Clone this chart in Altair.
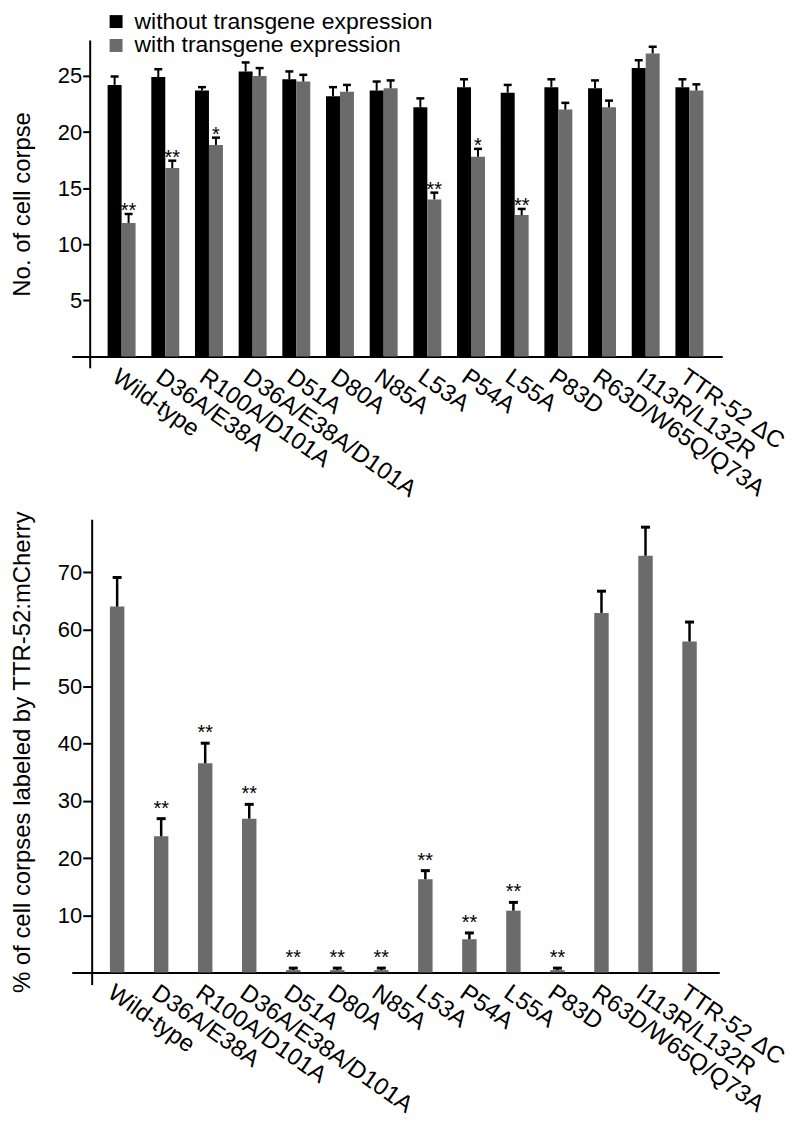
import altair as alt
import pandas as pd

FONT = "Liberation Sans"
GRAY = "#6b6b6b"

categories = ["Wild-type", "D36A/E38A", "R100A/D101A", "D36A/E38A/D101A", "D51A",
              "D80A", "N85A", "L53A", "P54A", "L55A", "P83D", "R63D/W65Q/Q73A",
              "I113R/L132R", "TTR-52 \u0394C"]

series_names = ["without transgene expression", "\u00a0with transgene expression"]

without_vals = [24.2, 24.9, 23.7, 25.4, 24.7, 23.2, 23.7, 22.2, 24.0, 23.5, 24.0, 23.9, 25.7, 24.0]
without_err = [0.75, 0.7, 0.3, 0.8, 0.7, 0.8, 0.8, 0.8, 0.7, 0.7, 0.7, 0.7, 0.7, 0.7]
with_vals = [11.9, 16.8, 18.85, 25.0, 24.5, 23.6, 23.9, 14.0, 17.8, 12.6, 22.0, 22.2, 27.0, 23.7]
with_err = [0.8, 0.65, 0.65, 0.7, 0.6, 0.6, 0.7, 0.6, 0.7, 0.55, 0.6, 0.6, 0.6, 0.55]
with_sig = ["**", "**", "*", "", "", "", "", "**", "*", "**", "", "", "", ""]

pct_vals = [64.0, 23.8, 36.6, 26.9, 0.4, 0.4, 0.4, 16.3, 5.8, 10.8, 0.4, 62.9, 72.9, 57.9]
pct_err = [5.1, 3.1, 3.5, 2.5, 0.35, 0.35, 0.35, 1.5, 1.1, 1.45, 0.35, 3.8, 5.0, 3.4]
pct_sig = ["", "**", "**", "**", "**", "**", "**", "**", "**", "**", "**", "", "", ""]

rows = []
for i, c in enumerate(categories):
    rows.append(dict(cat=c, series=series_names[0], value=without_vals[i],
                     hi=without_vals[i] + without_err[i], sig=""))
    rows.append(dict(cat=c, series=series_names[1], value=with_vals[i],
                     hi=with_vals[i] + with_err[i], sig=with_sig[i]))
top_df = pd.DataFrame(rows)

bot_df = pd.DataFrame({
    "cat": categories,
    "value": pct_vals,
    "hi": [v + e for v, e in zip(pct_vals, pct_err)],
    "sig": pct_sig,
})


def x_axis(offset):
    return alt.Axis(labelAngle=35, labelAlign="left", labelBaseline="top", ticks=False,
                    tickSize=0, labelPadding=8, offset=offset, domainWidth=2,
                    domainColor="black", labelFontSize=24, labelColor="black",
                    labelLimit=400, labelOverlap=False, labelFont=FONT)


def y_axis(values, title, offset, ticksize):
    return alt.Axis(values=values, title=title, offset=offset, tickSize=ticksize,
                    tickWidth=2, tickColor="black", domainWidth=2, domainColor="black",
                    grid=False, labelFontSize=22, labelColor="black", labelPadding=1,
                    titleFontSize=24, titleFontWeight="normal", titleColor="black",
                    titlePadding=23, labelFont=FONT, titleFont=FONT)


# ---------- top panel ----------
x_top = alt.X("cat:N", sort=categories, title=None,
              scale=alt.Scale(paddingInner=0.36, paddingOuter=0.627, align=0.655),
              axis=x_axis(-11.27))
xoff = alt.XOffset("series:N", sort=series_names,
                   scale=alt.Scale(domain=series_names, paddingInner=0, paddingOuter=0))
top_yscale = alt.Scale(domain=[-1, 28.2], nice=False, zero=False)
top_yaxis = y_axis([5, 10, 15, 20, 25], "No. of cell corpse", -18, 7)

top_bars = alt.Chart(top_df).mark_bar().encode(
    x=x_top, xOffset=xoff,
    y=alt.Y("value:Q", scale=top_yscale, axis=top_yaxis),
    y2=alt.datum(0),
    color=alt.Color("series:N", sort=series_names,
                    scale=alt.Scale(domain=series_names, range=["#000000", GRAY]),
                    legend=alt.Legend(title=None, orient="none", legendX=33, legendY=-30,
                                      symbolType="square", symbolSize=169,
                                      symbolStrokeWidth=0, symbolOpacity=1,
                                      labelFontSize=23, labelFont=FONT, labelColor="black",
                                      labelOffset=7, rowPadding=-5, padding=0,
                                      labelLimit=500)),
)
top_rules = alt.Chart(top_df).mark_rule(color="black", strokeWidth=2).encode(
    x=x_top, xOffset=xoff,
    y=alt.Y("value:Q", scale=top_yscale, axis=top_yaxis), y2="hi:Q")
top_caps = alt.Chart(top_df).mark_tick(color="black", thickness=2.5, size=8,
                                       orient="horizontal", opacity=1).encode(
    x=x_top, xOffset=xoff,
    y=alt.Y("hi:Q", scale=top_yscale, axis=top_yaxis))
top_stars = alt.Chart(top_df).mark_text(font=FONT, fontSize=20, baseline="alphabetic",
                                        dy=3, color="black").encode(
    x=x_top, xOffset=xoff,
    y=alt.Y("hi:Q", scale=top_yscale, axis=top_yaxis), text="sig:N")

top = alt.layer(top_bars, top_rules, top_caps, top_stars).properties(width=653, height=329)

# ---------- bottom panel ----------
x_bot = alt.X("cat:N", sort=categories, title=None,
              scale=alt.Scale(paddingInner=0.672, paddingOuter=0.689, align=0.629),
              axis=x_axis(-12.05))
bot_yscale = alt.Scale(domain=[-2.1, 79.3], nice=False, zero=False)
bot_yaxis = y_axis([10, 20, 30, 40, 50, 60, 70],
                   "% of cell corpses labeled by TTR-52:mCherry", -20, 9)

bot_bars = alt.Chart(bot_df).mark_bar(color=GRAY).encode(
    x=x_bot, y=alt.Y("value:Q", scale=bot_yscale, axis=bot_yaxis), y2=alt.datum(0))
bot_rules = alt.Chart(bot_df).mark_rule(color="black", strokeWidth=2.5).encode(
    x=x_bot, y=alt.Y("value:Q", scale=bot_yscale, axis=bot_yaxis), y2="hi:Q")
bot_caps = alt.Chart(bot_df).mark_tick(color="black", thickness=3, size=9,
                                       orient="horizontal", opacity=1).encode(
    x=x_bot, y=alt.Y("hi:Q", scale=bot_yscale, axis=bot_yaxis))
bot_stars = alt.Chart(bot_df).mark_text(font=FONT, fontSize=20, baseline="alphabetic",
                                        dy=-4, color="black").encode(
    x=x_bot, y=alt.Y("hi:Q", scale=bot_yscale, axis=bot_yaxis), text="sig:N")

bottom = alt.layer(bot_bars, bot_rules, bot_caps, bot_stars).properties(width=650, height=467)

chart = alt.vconcat(top, bottom, spacing=5).resolve_scale(
    x="independent", y="independent", color="independent"
).properties(
    padding={"left": 2, "top": 0, "right": 0, "bottom": 0}, background="white"
).configure(font=FONT).configure_view(strokeWidth=0, stroke="transparent")

chart.save("out.html", embed_options={"renderer": "svg", "actions": False})
